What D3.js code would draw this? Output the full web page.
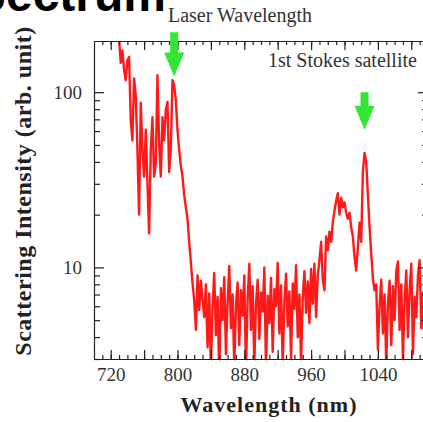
<!DOCTYPE html>
<meta charset="utf-8">
<style>
body { margin: 0; background: #fff; }
svg text { font-family: "Liberation Serif", "Times New Roman", serif; fill: #333; }
.axis path, .axis line { stroke: #222; stroke-width: 1.2; }
.axis text { font-size: 19px; }
</style>
<body>
<svg width="423" height="422"></svg>
<script src="https://d3js.org/d3.v7.min.js"></script>
<script>

// spectrum sampled every 2 nm starting at 726 nm
var wavelengthStart = 726, wavelengthStep = 2;
var intensity = [
  260, 230, 200, 147, 173, 134, 117, 152, 159, 69,
  53, 120, 96, 47, 20, 87, 47, 33, 61, 30,
  15.6, 47, 72, 33, 39, 125, 51, 33, 72, 53,
  79, 88, 35, 48, 117, 110, 90, 61, 47, 38,
  33, 26, 22, 19, 14, 10.7, 8.1, 6.5, 4.4, 9,
  5.7, 8.4, 6.5,
  5.2, 8.0, 3.5, 7.1, 2.6, 6.0, 9.3, 4.1, 6.8, 2.4,
  7.6, 5.0, 8.8, 3.2, 6.3, 10.2, 4.5, 7.0, 2.7, 6.1,
  8.2, 3.6, 7.4, 5.3, 9.0, 2.5, 6.6, 10.5, 4.4, 7.8,
  2.8, 6.2, 8.5, 3.9, 7.2, 5.6, 10.0, 2.6, 6.9, 4.8,
  8.7, 3.3, 7.5, 6.0, 10.6, 4.2, 7.9, 2.7, 6.4, 9.2,
  4.6, 7.3, 3.0, 8.1, 5.8, 10.3, 4.0, 7.0,
  2.8, 6.8, 9.5, 5.5, 8.3, 4.8, 9.8, 6.2, 10.5,
  5.2, 9.0, 11.0, 14.0, 8.5, 7.4, 15.0, 12.5, 16.0, 14.0,
  18.0, 21.0, 24.0, 26.5, 20.0, 25.0, 22.0, 23.5, 20.5, 19.0,
  20.5, 17.0, 15.0, 11.5, 9.6, 13.0, 18.0, 14.0, 35.0, 45.0,
  40.0, 26.0, 17.0, 12.0, 8.7, 7.4, 8.0, 3.4, 6.0, 8.5,
  4.2, 7.0, 2.8, 6.2, 8.4, 3.6, 7.8, 5.0, 9.5, 10.8,
  4.4, 8.0, 3.0, 6.5, 9.6, 4.0, 7.4, 10.5, 3.2, 6.8,
  5.2, 9.0, 11.0, 4.5, 7.2, 3.3, 6.0, 8.0
];

var xLabelTicks = [720, 800, 880, 960, 1040];
var yLabelTicks = [10, 100];
var yMinorTicks = [3, 4, 5, 6, 7, 8, 9, 20, 30, 40, 50, 60, 70, 80, 90];

// green markers: wavelength, tail and tip intensity
var arrowNm = [796, 1024];
var arrowTail = [220, 100];
var arrowTip = [123, 61];

var svg = d3.select("svg");
var plotLeft = 94, plotRight = 428, plotTop = 41, plotBottom = 359;

var x = d3.scaleLinear().domain([700, 1100]).range([plotLeft, plotRight]);
var y = d3.scaleLog().domain([3, 196]).range([plotBottom, plotTop]);

var data = intensity.map(function(v, i) {
  return { nm: wavelengthStart + i * wavelengthStep, v: v };
});

svg.append("clipPath").attr("id", "plot")
  .append("rect").attr("x", plotLeft).attr("y", plotTop)
  .attr("width", plotRight - plotLeft).attr("height", plotBottom - plotTop);

svg.append("path").datum(data)
  .attr("clip-path", "url(#plot)")
  .attr("fill", "none")
  .attr("stroke", "#ff1a1a")
  .attr("stroke-width", 2.4)
  .attr("stroke-linejoin", "round")
  .attr("d", d3.line().x(d => x(d.nm)).y(d => y(d.v)));

// axes: minor and major ticks pointing in, labels outside
function xAxes(axisFn, ypos) {
  svg.append("g").attr("class", "axis").attr("transform", "translate(0," + ypos + ")")
    .call(axisFn(x).tickValues(d3.range(710, 1100, 10)).tickSize(-4).tickFormat(""))
    .select(".domain").remove();
  svg.append("g").attr("class", "axis").attr("transform", "translate(0," + ypos + ")")
    .call(axisFn(x).tickValues(d3.range(720, 1100, 40)).tickSizeInner(-9).tickSizeOuter(0).tickFormat(""));
}
xAxes(d3.axisBottom, plotBottom);
xAxes(d3.axisTop, plotTop);

svg.append("g").attr("class", "axis").attr("transform", "translate(0," + plotBottom + ")")
  .call(d3.axisBottom(x).tickValues(xLabelTicks).tickSize(0).tickPadding(9).tickFormat(d3.format("d")))
  .call(g => g.select(".domain").remove());

function yAxes(axisFn, xpos, labels) {
  svg.append("g").attr("class", "axis").attr("transform", "translate(" + xpos + ",0)")
    .call(axisFn(y).tickValues(yMinorTicks).tickSize(-6).tickFormat(""))
    .select(".domain").remove();
  svg.append("g").attr("class", "axis").attr("transform", "translate(" + xpos + ",0)")
    .call(axisFn(y).tickValues(yLabelTicks).tickSizeInner(-10).tickSizeOuter(0)
      .tickPadding(12).tickFormat(labels ? d3.format("d") : ""));
}
yAxes(d3.axisLeft, plotLeft, true);
yAxes(d3.axisRight, plotRight, false);

// green arrows
arrowNm.forEach(function(nm, i) {
  var cx = x(nm), y0 = y(arrowTail[i]), y1 = y(arrowTip[i]);
  var head = 24, sw = 4, hw = 10;
  var p = d3.path();
  p.moveTo(cx - sw, y0); p.lineTo(cx + sw, y0);
  p.lineTo(cx + sw, y1 - head); p.lineTo(cx + hw, y1 - head);
  p.lineTo(cx, y1); p.lineTo(cx - hw, y1 - head);
  p.lineTo(cx - sw, y1 - head); p.closePath();
  svg.append("path").attr("d", p.toString()).attr("fill", "#33e633");
});

// texts
svg.append("text").attr("x", 240).attr("y", 22).attr("text-anchor", "middle")
  .style("font-size", "20px").text("Laser Wavelength");
svg.append("text").attr("x", 268).attr("y", 67)
  .style("font-size", "20px").text("1st Stokes satellite");

svg.append("text").attr("x", 269).attr("y", 412).attr("text-anchor", "middle")
  .style("font-size", "22px").style("font-weight", "bold").style("letter-spacing", "1px")
  .style("fill", "#222").text("Wavelength (nm)");

svg.append("text").attr("transform", "translate(31,191) rotate(-90)")
  .attr("text-anchor", "middle")
  .style("font-size", "24px").style("font-weight", "bold").style("letter-spacing", "0.5px")
  .style("fill", "#222").text("Scattering Intensity (arb. unit)");

svg.append("text").attr("x", 166).attr("y", 11).attr("text-anchor", "end")
  .style("font-family", "'Liberation Sans', Arial, sans-serif")
  .style("font-size", "48px").style("font-weight", "bold").style("fill", "#000")
  .text("Spectrum");

</script>
</body>
